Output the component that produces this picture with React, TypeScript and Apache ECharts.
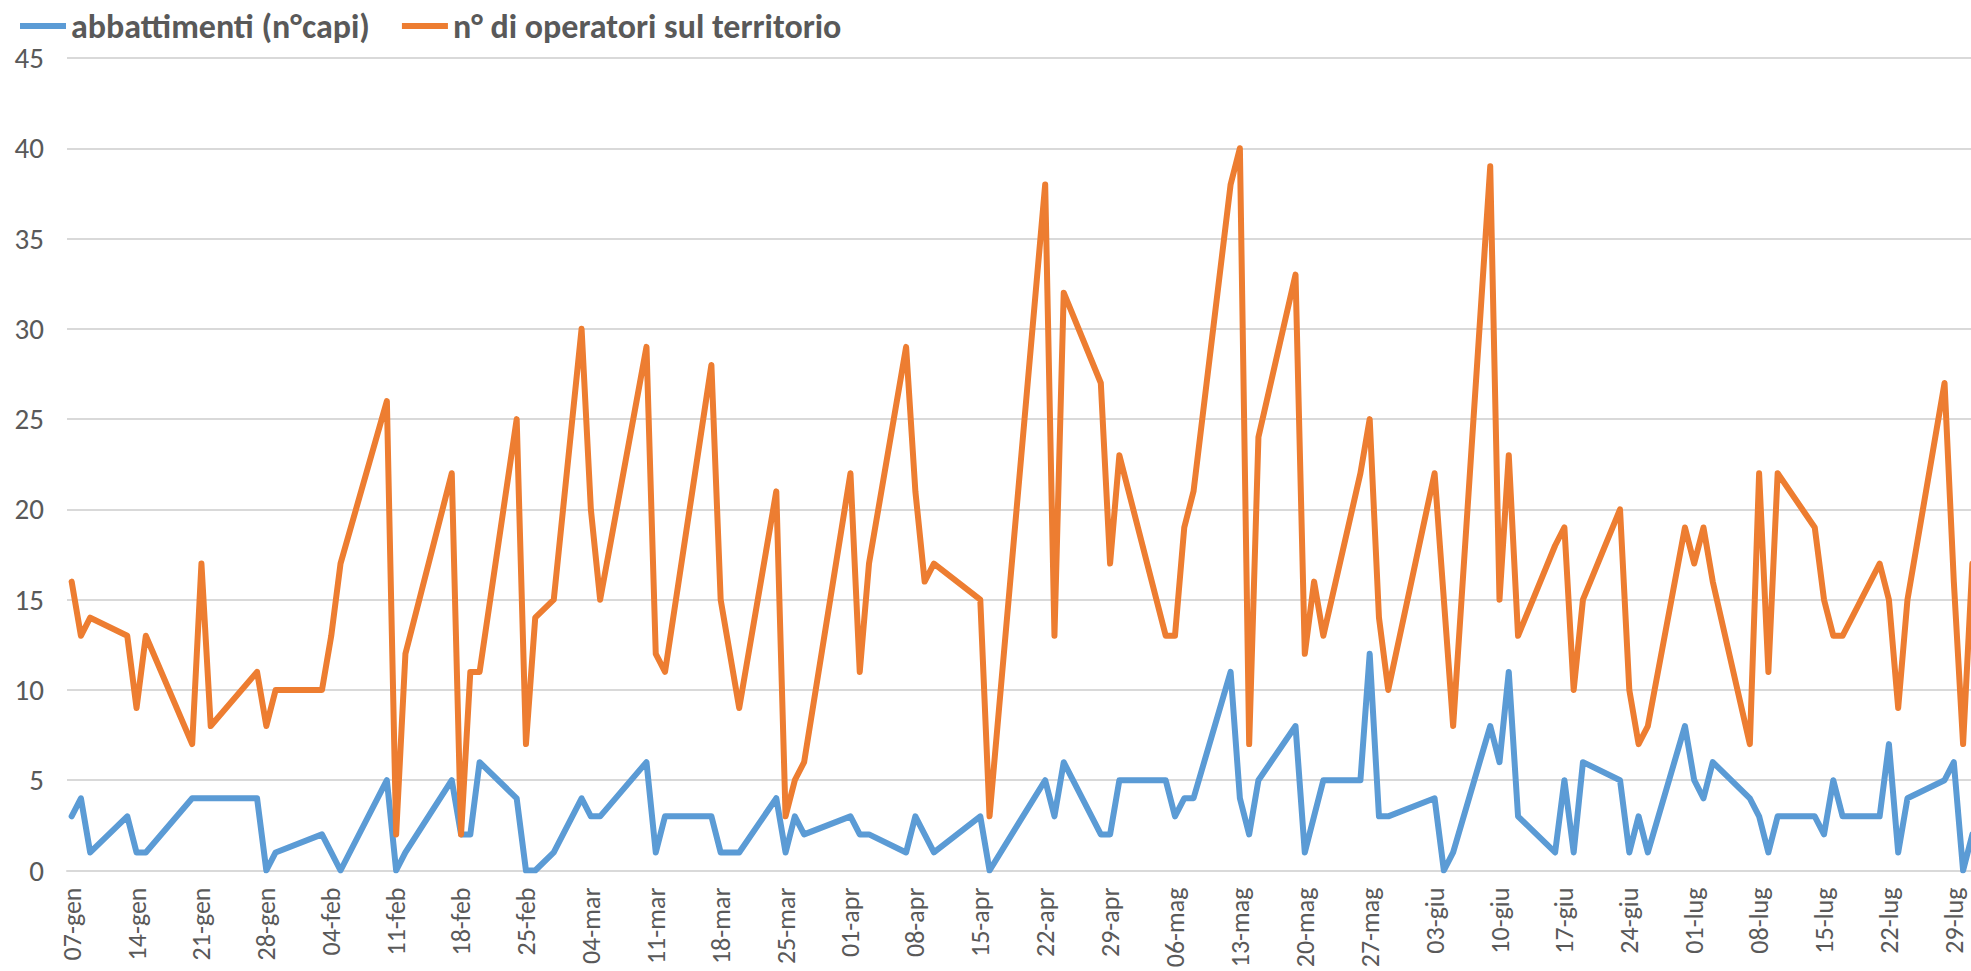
import React, { useEffect, useRef } from "react";
import * as echarts from "echarts";

// ---- data ----
const monthAbbr = ["gen", "feb", "mar", "apr", "mag", "giu", "lug", "ago", "set", "ott", "nov", "dic"];
const year = 2019;
const axisFirstDay = "07-gen";
const axisLastDay = "31-lug";

const measureDates = [
  "07-gen", "08-gen", "09-gen", "13-gen", "14-gen", "15-gen", "20-gen", "21-gen", "22-gen", "27-gen", "28-gen", "29-gen",
  "03-feb", "04-feb", "05-feb", "10-feb", "11-feb", "12-feb", "17-feb", "18-feb", "19-feb", "20-feb", "24-feb", "25-feb", "26-feb", "28-feb",
  "03-mar", "04-mar", "05-mar", "10-mar", "11-mar", "12-mar", "17-mar", "18-mar", "20-mar", "24-mar", "25-mar", "26-mar", "27-mar",
  "01-apr", "02-apr", "03-apr", "07-apr", "08-apr", "09-apr", "10-apr", "15-apr", "16-apr", "22-apr", "23-apr", "24-apr", "28-apr", "29-apr", "30-apr",
  "05-mag", "06-mag", "07-mag", "08-mag", "12-mag", "13-mag", "14-mag", "15-mag", "19-mag", "20-mag", "21-mag", "22-mag", "26-mag", "27-mag", "28-mag", "29-mag",
  "03-giu", "04-giu", "05-giu", "09-giu", "10-giu", "11-giu", "12-giu", "16-giu", "17-giu", "18-giu", "19-giu", "23-giu", "24-giu", "25-giu", "26-giu", "30-giu",
  "01-lug", "02-lug", "03-lug", "07-lug", "08-lug", "09-lug", "10-lug", "14-lug", "15-lug", "16-lug", "17-lug", "21-lug", "22-lug", "23-lug", "24-lug", "28-lug", "29-lug", "30-lug", "31-lug",
];

const abbattimenti = [
  3, 4, 1, 3, 1, 1, 4, 4, 4, 4, 0, 1,
  2, 1, 0, 5, 0, 1, 5, 2, 2, 6, 4, 0, 0, 1,
  4, 3, 3, 6, 1, 3, 3, 1, 1, 4, 1, 3, 2,
  3, 2, 2, 1, 3, 2, 1, 3, 0, 5, 3, 6, 2, 2, 5,
  5, 3, 4, 4, 11, 4, 2, 5, 8, 1, 3, 5, 5, 12, 3, 3,
  4, 0, 1, 8, 6, 11, 3, 1, 5, 1, 6, 5, 1, 3, 1, 8,
  5, 4, 6, 4, 3, 1, 3, 3, 2, 5, 3, 3, 7, 1, 4, 5, 6, 0, 2,
];

const operatori = [
  16, 13, 14, 13, 9, 13, 7, 17, 8, 11, 8, 10,
  10, 13, 17, 26, 2, 12, 22, 2, 11, 11, 25, 7, 14, 15,
  30, 20, 15, 29, 12, 11, 28, 15, 9, 21, 3, 5, 6,
  22, 11, 17, 29, 21, 16, 17, 15, 3, 38, 13, 32, 27, 17, 23,
  13, 13, 19, 21, 38, 40, 7, 24, 33, 12, 16, 13, 22, 25, 14, 10,
  22, 15, 8, 39, 15, 23, 13, 18, 19, 10, 15, 20, 10, 7, 8, 19,
  17, 19, 16, 7, 22, 11, 22, 19, 15, 13, 13, 17, 15, 9, 15, 27, 16, 7, 17,
];

const seriesNames = ["abbattimenti (n°capi)", "n° di operatori sul territorio"];
const seriesColors = ["#5B9BD5", "#ED7D31"];
const yMin = 0;
const yMax = 45;
const yStep = 5;
const labelEveryDays = 7;

// ---- helpers ----
function toUTC(label: string): number {
  const [dd, mmm] = label.split("-");
  return Date.UTC(year, monthAbbr.indexOf(mmm), parseInt(dd, 10));
}
function fmt(t: number): string {
  const d = new Date(t);
  const dd = String(d.getUTCDate()).padStart(2, "0");
  return dd + "-" + monthAbbr[d.getUTCMonth()];
}

const DAY = 86400000;
const dayCategories: string[] = [];
for (let t = toUTC(axisFirstDay); t <= toUTC(axisLastDay); t += DAY) dayCategories.push(fmt(t));

function alignSeries(values: number[]): (number | null)[] {
  const out: (number | null)[] = dayCategories.map(() => null);
  measureDates.forEach((d, i) => {
    const idx = dayCategories.indexOf(d);
    if (idx >= 0) out[idx] = values[i];
  });
  return out;
}

const FONT = "Carlito, Lato, 'Open Sans', sans-serif";

export default function App() {
  const ref = useRef<HTMLDivElement>(null);
  useEffect(() => {
    if (!ref.current) return;
    const chart = echarts.init(ref.current, undefined, { renderer: "svg" });
    const mkSeries = (i: number, values: number[]) => ({
      name: seriesNames[i],
      type: "line",
      data: alignSeries(values),
      connectNulls: true,
      showSymbol: false,
      symbol: "none",
      lineStyle: { width: 6, color: seriesColors[i], join: "round", cap: "round" },
      itemStyle: { color: seriesColors[i] },
      emphasis: { disabled: true },
    });
    chart.setOption({
      animation: false,
      backgroundColor: "#ffffff",
      legend: {
        left: 15,
        top: 4,
        icon: "rect",
        itemWidth: 46,
        itemHeight: 6,
        itemGap: 32,
        textStyle: { fontSize: 34, fontWeight: "bold", color: "#595959", fontFamily: FONT },
        data: seriesNames,
      },
      grid: { left: 67, top: 58, width: 1910, height: 812.5, containLabel: false, outerBoundsMode: "none" },
      xAxis: {
        type: "category",
        data: dayCategories,
        boundaryGap: true,
        axisLine: { show: true, lineStyle: { color: "#d9d9d9", width: 2 } },
        axisTick: { show: false },
        axisLabel: {
          rotate: 90,
          interval: (idx: number) => idx % labelEveryDays === 0,
          margin: 17,
          fontSize: 26,
          color: "#595959",
          fontFamily: FONT,
        },
        splitLine: { show: false },
      },
      yAxis: {
        type: "value",
        min: yMin,
        max: yMax,
        interval: yStep,
        axisLine: { show: false },
        axisTick: { show: false },
        axisLabel: { margin: 23, fontSize: 29, color: "#595959", fontFamily: FONT },
        splitLine: { lineStyle: { color: "#d9d9d9", width: 2 } },
      },
      series: [mkSeries(0, abbattimenti), mkSeries(1, operatori)],
    });
    return () => chart.dispose();
  }, []);
  return (
    <div
      ref={ref}
      style={{ position: "fixed", left: 0, top: 0, width: 1971, height: 971, background: "#fff" }}
    />
  );
}
